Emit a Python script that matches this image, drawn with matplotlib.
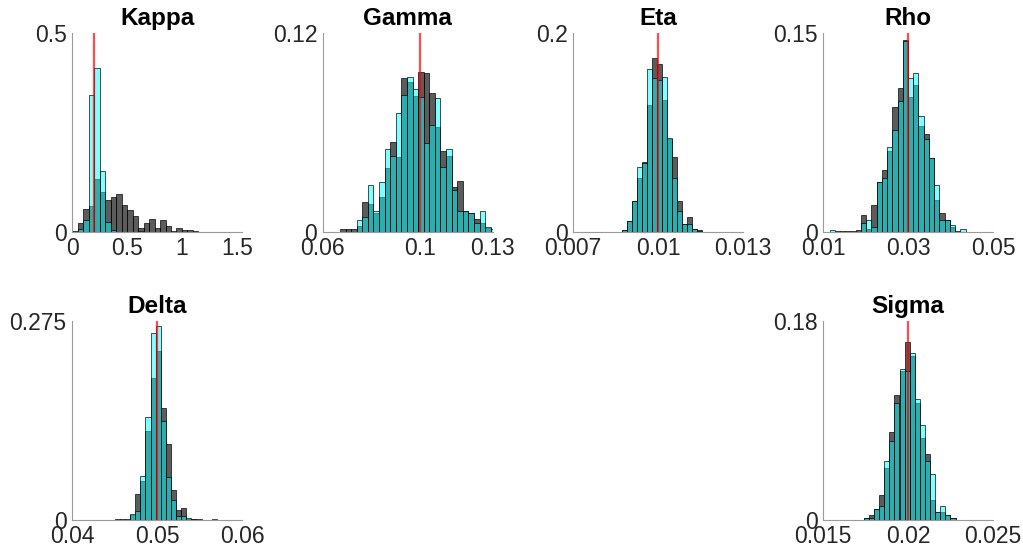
import matplotlib
matplotlib.use("Agg")
import matplotlib.pyplot as plt
import numpy as np

plt.rcParams["font.family"] = ["Liberation Sans", "DejaVu Sans"]

# ---- parameter names, true values and axis ranges ----
names = ["Kappa", "Gamma", "Eta", "Rho", "Delta", "Sigma"]
true_values = [0.2, 0.1, 0.01, 0.03, 0.05, 0.02]
x_limits = [(0, 1.55), (0.06, 0.13), (0.007, 0.013), (0.01, 0.05), (0.04, 0.06), (0.015, 0.025)]
x_ticks = [[0, 0.5, 1, 1.5], [0.06, 0.1, 0.13], [0.007, 0.01, 0.013],
           [0.01, 0.03, 0.05], [0.04, 0.05, 0.06], [0.015, 0.02, 0.025]]
x_tick_labels = [["0", "0.5", "1", "1.5"], ["0.06", "0.1", "0.13"], ["0.007", "0.01", "0.013"],
                 ["0.01", "0.03", "0.05"], ["0.04", "0.05", "0.06"], ["0.015", "0.02", "0.025"]]
y_max = [0.5, 0.12, 0.2, 0.15, 0.275, 0.18]
y_tick_labels = [["0", "0.5"], ["0", "0.12"], ["0", "0.2"], ["0", "0.15"], ["0", "0.275"], ["0", "0.18"]]

# ---- histogram bins (first edge, bin width) ----
bin_start = [0.0, 0.0671, 0.00874, 0.01155, 0.045, 0.0174]
bin_width = [0.05, 0.0023, 0.000176, 0.00123, 0.0006, 0.0003]

# ---- bin probabilities: first sample (dark) ----
kappa_a = [0.0025, 0.0236, 0.058, 0.066, 0.133, 0.0995, 0.081, 0.0877, 0.095, 0.0666,
           0.0565, 0.0396, 0.011, 0.0236, 0.033, 0.011, 0.0295, 0.016, 0.0025, 0.0093,
           0.004, 0.004, 0.0017, 0.0008, 0.0005, 0.0005, 0.0005, 0.0005, 0.0005]
gamma_a = [0.0016, 0.0016, 0.0016, 0.0038, 0.0183, 0.0169, 0.0117, 0.0213, 0.0384, 0.0543,
           0.045, 0.0927, 0.0906, 0.082, 0.0967, 0.096, 0.0836, 0.0635, 0.049, 0.046,
           0.027, 0.031, 0.0129, 0.0113, 0.0076, 0.0052, 0.0026, 0.0]
eta_a = [0.0017, 0.011, 0.0308, 0.0546, 0.070, 0.128, 0.1745, 0.169, 0.133, 0.093,
         0.0757, 0.031, 0.0077, 0.015, 0.0034, 0.002]
rho_a = [0.0, 0.0005, 0.0005, 0.0005, 0.0005, 0.0013, 0.0126, 0.0025, 0.0204, 0.0374,
         0.0467, 0.0613, 0.0945, 0.1088, 0.145, 0.102, 0.111, 0.080, 0.0741, 0.0555,
         0.0241, 0.0146, 0.009, 0.004, 0.001, 0.0]
delta_a = [0.0014, 0.0014, 0.0014, 0.0075, 0.036, 0.0543, 0.1225, 0.196, 0.234, 0.155,
           0.105, 0.0415, 0.0143, 0.016, 0.002, 0.0014, 0.002, 0.0005, 0.0005, 0.0]
sigma_a = [0.0015, 0.0048, 0.0103, 0.0229, 0.047, 0.0796, 0.1128, 0.135, 0.161, 0.148,
           0.106, 0.074, 0.0597, 0.0184, 0.0069, 0.0069, 0.0048, 0.0018]

# ---- bin probabilities: second sample (cyan) ----
kappa_b = [0.0, 0.0067, 0.0295, 0.344, 0.411, 0.154, 0.026, 0.004, 0.0, 0.0,
           0.0, 0.0, 0.0025, 0.0, 0.0, 0.0, 0.0, 0.0, 0.0, 0.0,
           0.0, 0.0, 0.0, 0.0, 0.0, 0.0, 0.0, 0.0, 0.0]
gamma_b = [0.0, 0.0, 0.0, 0.007, 0.009, 0.0283, 0.0127, 0.030, 0.0499, 0.046,
           0.0716, 0.0826, 0.0933, 0.086, 0.0816, 0.0535, 0.0645, 0.0806, 0.0394, 0.0499,
           0.0253, 0.0129, 0.0125, 0.0113, 0.0052, 0.0127, 0.0032, 0.0016]
eta_b = [0.0017, 0.011, 0.0308, 0.0657, 0.069, 0.1635, 0.155, 0.153, 0.156, 0.0948,
         0.054, 0.0214, 0.0077, 0.0077, 0.0034, 0.001]
rho_b = [0.0015, 0.0, 0.0, 0.0, 0.0, 0.0, 0.007, 0.0088, 0.0035, 0.0374,
         0.041, 0.0638, 0.0769, 0.0988, 0.144, 0.1163, 0.120, 0.0875, 0.0699, 0.0555,
         0.0354, 0.0088, 0.009, 0.0055, 0.0, 0.002]
delta_b = [0.0, 0.0, 0.0, 0.008, 0.012, 0.0603, 0.143, 0.258, 0.268, 0.137,
           0.060, 0.028, 0.006, 0.005, 0.0028, 0.001, 0.0, 0.0, 0.0, 0.0015]
sigma_b = [0.0015, 0.0018, 0.0103, 0.0124, 0.0537, 0.0712, 0.1058, 0.1366, 0.135, 0.151,
           0.1097, 0.0856, 0.0537, 0.0416, 0.0069, 0.0124, 0.0048, 0.0018]

sample_a = [kappa_a, gamma_a, eta_a, rho_a, delta_a, sigma_a]
sample_b = [kappa_b, gamma_b, eta_b, rho_b, delta_b, sigma_b]

# ---- layout ----
W, H = 1023, 556
fig = plt.figure(figsize=(W / 100, H / 100), dpi=100)
lefts = [72.3, 322.7, 573.0, 823.0, 72.3, 823.0]
tops = [33, 33, 33, 33, 321, 321]
ax_w, ax_h = 170.0, 199.0

axis_grey = "#9a9a9a"
text_col = "#262626"
dark_face = (0, 0, 0, 0.64)
cyan_face = (0, 1, 1, 0.5)
edge = (0, 0, 0, 0.8)

for i, name in enumerate(names):
    ax = fig.add_axes([lefts[i] / W, 1 - (tops[i] + ax_h) / H, ax_w / W, ax_h / H])
    n = len(sample_a[i])
    edges = bin_start[i] + bin_width[i] * np.arange(n)

    for heights, face in ((sample_a[i], dark_face), (sample_b[i], cyan_face)):
        h = np.asarray(heights)
        keep = h > 0
        ax.bar(edges[keep], h[keep], width=bin_width[i], align="edge",
               facecolor=face, edgecolor=edge, linewidth=0.6, zorder=2)

    ax.axvline(true_values[i], color=(1, 0, 0, 0.7), linewidth=1.6, zorder=3)

    ax.set_xlim(*x_limits[i])
    ax.set_ylim(0, y_max[i])
    ax.set_xticks(x_ticks[i])
    ax.set_xticklabels(x_tick_labels[i])
    ax.set_yticks([0, y_max[i]])
    ax.set_yticklabels(y_tick_labels[i])
    ax.tick_params(length=0, labelsize=16.5, colors=text_col)
    ax.tick_params(axis="x", pad=3.5)
    ax.tick_params(axis="y", pad=4)
    for side in ("top", "right"):
        ax.spines[side].set_visible(False)
    for side in ("left", "bottom"):
        ax.spines[side].set_color(axis_grey)
        ax.spines[side].set_linewidth(0.8)
    ax.set_title(name, fontsize=17.5, fontweight="bold", color="black", pad=5.5)

fig.savefig("out.png", dpi=100)
